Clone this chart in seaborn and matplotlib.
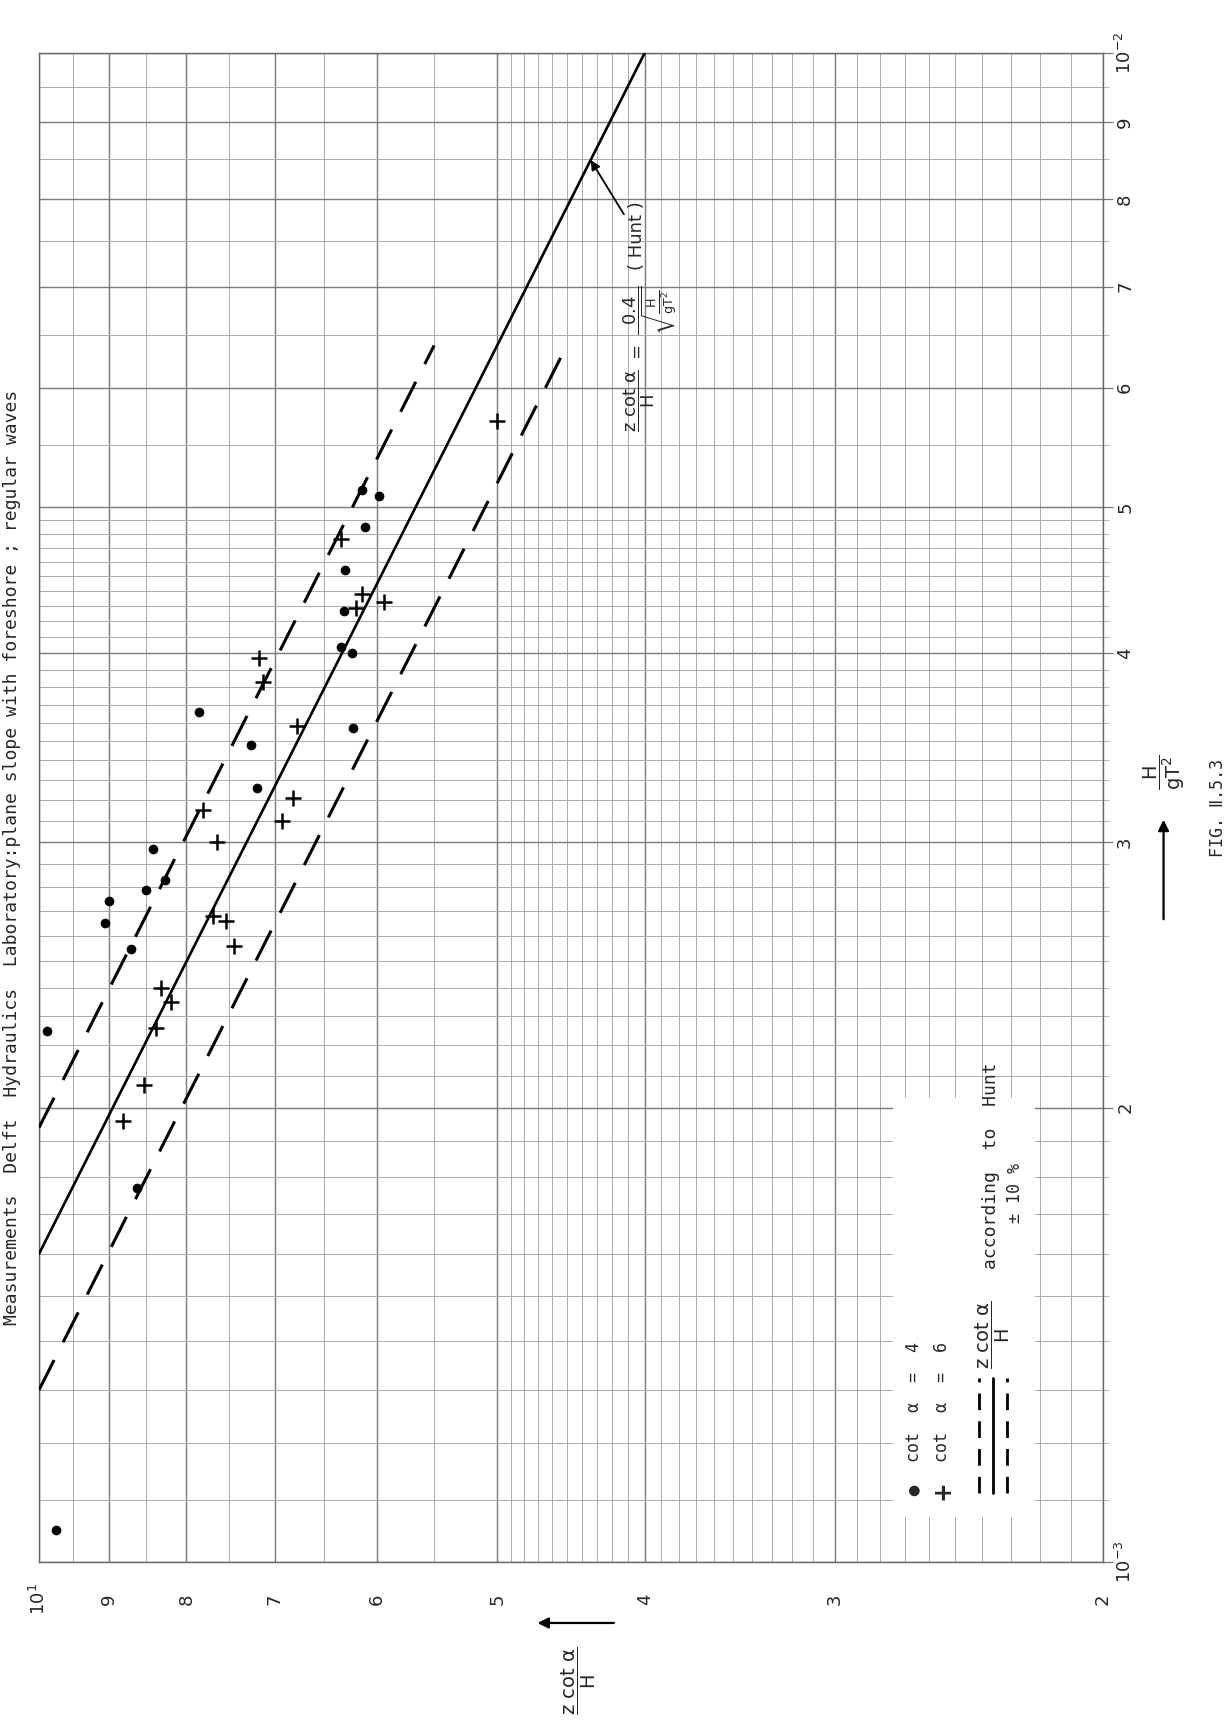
"""
Wave run-up on a plane slope with foreshore (Delft Hydraulics, regular waves).
Log-log chart drawn rotated like the scanned page: z cot(a)/H runs left-right,
H/gT^2 runs bottom-top.
"""

import numpy as np
import pandas as pd
import matplotlib
matplotlib.use("Agg")
import matplotlib.pyplot as plt
from matplotlib.ticker import FixedLocator, NullFormatter
from matplotlib.patches import Rectangle
import seaborn as sns

# measured points, cot a = 4 (dots)
h_cot4 = [5.13e-3, 5.09e-3, 4.85e-3, 4.54e-3, 4.27e-3, 4.04e-3, 4.00e-3, 3.66e-3,
          3.57e-3, 3.48e-3, 3.26e-3, 2.97e-3, 2.83e-3, 2.79e-3, 2.74e-3, 2.65e-3,
          2.55e-3, 2.25e-3, 1.77e-3, 1.05e-3]
z_cot4 = [6.13, 5.98, 6.11, 6.29, 6.30, 6.33, 6.23, 7.85,
          6.22, 7.26, 7.19, 8.42, 8.26, 8.50, 9.00, 9.05,
          8.70, 9.88, 8.62, 9.75]

# measured points, cot a = 6 (plus)
h_cot6 = [5.70e-3, 4.76e-3, 4.38e-3, 4.33e-3, 4.29e-3, 3.97e-3, 3.83e-3, 3.58e-3,
          3.21e-3, 3.15e-3, 3.10e-3, 3.00e-3, 2.68e-3, 2.66e-3, 2.56e-3, 2.40e-3,
          2.35e-3, 2.26e-3, 2.07e-3, 1.96e-3]
z_cot6 = [5.00, 6.33, 6.13, 5.93, 6.19, 7.17, 7.13, 6.77,
          6.81, 7.80, 6.92, 7.64, 7.69, 7.53, 7.44, 8.31,
          8.19, 8.38, 8.53, 8.80]

# Hunt line and the +-10% band (end points)
hunt_h = [1.60e-3, 1.0e-2]
hunt_z = [10.0, 4.0]
upper_h = [1.94e-3, 6.4e-3]
upper_z = [10.0, 5.5]
lower_h = [1.30e-3, 6.4e-3]
lower_z = [10.0, 4.5]

# point on the Hunt line the "(Hunt)" arrow points to
hunt_arrow_h = 8.49e-3
hunt_arrow_z = 4.34

x_ticks = [2, 3, 4, 5, 6, 7, 8, 9, 10]
x_labels = ["2", "3", "4", "5", "6", "7", "8", "9", r"$10^1$"]
y_ticks = [1e-3, 2e-3, 3e-3, 4e-3, 5e-3, 6e-3, 7e-3, 8e-3, 9e-3, 1e-2]
y_labels = [r"$10^{-3}$", "2", "3", "4", "5", "6", "7", "8", "9", r"$10^{-2}$"]

title = ("Measurements  Delft  Hydraulics  Laboratory:plane slope with "
         "foreshore ; regular waves")

sns.set_style("white")
plt.rcParams["font.family"] = ["DejaVu Sans"]
plt.rcParams["mathtext.default"] = "regular"
lettering = ["DejaVu Sans Mono", "DejaVu Sans"]

fig = plt.figure(figsize=(12.29, 17.30), dpi=100)
ax = fig.add_axes([0.0317, 0.0971, 0.8657, 0.8723])
ax.set_xscale("log")
ax.set_yscale("log")
ax.set_xlim(10, 2)
ax.set_ylim(1e-3, 1e-2)

# log paper: 0.1 steps up to 5, 0.5 steps above
paper = np.concatenate([np.arange(10, 50) / 10.0, np.arange(50, 100, 5) / 10.0])
x_minor = [m for m in paper if 2 <= m <= 10]
y_minor = [m * 1e-3 for m in paper]

ax.set_xticks(x_ticks, x_labels, rotation=90, va="center", fontsize=13)
ax.set_yticks(y_ticks, y_labels, rotation=90, ha="center", va="center", fontsize=13)
ax.xaxis.set_minor_locator(FixedLocator(x_minor))
ax.yaxis.set_minor_locator(FixedLocator(y_minor))
ax.xaxis.set_minor_formatter(NullFormatter())
ax.yaxis.set_minor_formatter(NullFormatter())
ax.yaxis.tick_right()

ax.tick_params(axis="x", which="major", length=7, width=0.9, color="#777777", pad=20)
ax.tick_params(axis="y", which="major", length=7, width=0.9, color="#777777", pad=9)
ax.tick_params(which="minor", length=4, width=0.6, color="#aaaaaa")
ax.set_axisbelow(True)
ax.grid(which="major", color="#7a7a7a", lw=1.0)
ax.grid(which="minor", color="#ababab", lw=0.7)
for s in ax.spines.values():
    s.set_color("#666666")
    s.set_linewidth(1.0)

# lines
sns.lineplot(x=hunt_z, y=hunt_h, color="black", lw=1.9, sort=False,
             estimator=None, ax=ax, zorder=3)
for zz, hh in [(upper_z, upper_h), (lower_z, lower_h)]:
    sns.lineplot(x=zz, y=hh, color="black", lw=2.2, linestyle=(0, (11, 6.5)),
                 sort=False, estimator=None, ax=ax, zorder=3)

# measurements
pts4 = pd.DataFrame({"zcot": z_cot4, "h": h_cot4})
pts6 = pd.DataFrame({"zcot": z_cot6, "h": h_cot6})
sns.scatterplot(data=pts4, x="zcot", y="h", marker="o", s=42, color="black",
                edgecolor="black", linewidth=0.5, ax=ax, zorder=4, legend=False)
sns.scatterplot(data=pts6, x="zcot", y="h", marker="+", s=130, color="black",
                linewidth=1.8, ax=ax, zorder=4, legend=False)
ax.set_xlabel("")
ax.set_ylabel("")

# legend block (paper blanked out behind it)
ax.add_patch(Rectangle((0.803, 0.0298), 0.133, 0.278, transform=ax.transAxes,
                       facecolor="white", edgecolor="none", zorder=1))
ax.text(0.822, 0.044, "\u25CF", transform=ax.transAxes, rotation=90,
        ha="center", va="bottom", fontsize=10, zorder=5)
ax.text(0.822, 0.066, "cot  \u03B1  =  4", transform=ax.transAxes, rotation=90,
        ha="center", va="bottom", fontsize=12, family=lettering, zorder=5)
ax.text(0.849, 0.041, "+", transform=ax.transAxes, rotation=90,
        ha="center", va="bottom", fontsize=17, fontweight="bold", zorder=5)
ax.text(0.849, 0.066, "cot  \u03B1  =  6", transform=ax.transAxes, rotation=90,
        ha="center", va="bottom", fontsize=12, family=lettering, zorder=5)
ax.plot([0.884, 0.884], [0.046, 0.122], transform=ax.transAxes, color="black",
        lw=2.0, linestyle=(0, (6, 4)), zorder=5)
ax.plot([0.897, 0.897], [0.046, 0.122], transform=ax.transAxes, color="black",
        lw=2.0, zorder=5)
ax.plot([0.910, 0.910], [0.046, 0.122], transform=ax.transAxes, color="black",
        lw=2.0, linestyle=(0, (6, 4)), zorder=5)
ax.text(0.897, 0.128, r"$\dfrac{z\ cot\ \alpha}{H}$", transform=ax.transAxes,
        rotation=90, ha="center", va="bottom", fontsize=14, zorder=5)
ax.text(0.895, 0.194, "according  to  Hunt", transform=ax.transAxes,
        rotation=90, ha="center", va="bottom", fontsize=13, family=lettering, zorder=5)
ax.text(0.917, 0.2445, "\u00B1 10 %", transform=ax.transAxes, rotation=90,
        ha="center", va="center", fontsize=12, family=lettering, zorder=5)

# Hunt formula and label
ax.text(0.574, 0.846, r"$\dfrac{z\ cot\ \alpha}{H}\ =\ \dfrac{0.4}{\sqrt{\frac{H}{gT^2}}}$",
        transform=ax.transAxes, rotation=90, ha="center", va="top", fontsize=13,
        zorder=5)
ax.annotate("( Hunt )", xy=(hunt_arrow_z, hunt_arrow_h), xycoords="data",
            xytext=(0.562, 0.879), textcoords="axes fraction", rotation=90,
            ha="center", va="center", fontsize=13, zorder=5,
            arrowprops=dict(arrowstyle="-|>", color="black", lw=1.3,
                            shrinkA=1, shrinkB=0, mutation_scale=14))

# title and axis captions
ax.text(-0.0254, 0.157, title, transform=ax.transAxes, rotation=90,
        ha="center", va="bottom", fontsize=13, family=lettering)
ax.text(1.058, 0.5235, r"$\dfrac{H}{gT^2}$", transform=ax.transAxes, rotation=90,
        ha="center", va="center", fontsize=14)
ax.annotate("", xy=(1.057, 0.4937), xytext=(1.057, 0.4241), xycoords="axes fraction",
            arrowprops=dict(arrowstyle="-|>", color="black", lw=1.6, mutation_scale=16))
ax.text(1.108, 0.4997, "FIG. \u2161.5.3", transform=ax.transAxes, rotation=90,
        ha="center", va="center", fontsize=12, family=lettering)
ax.text(0.5075, -0.079, r"$\dfrac{z\ cot\ \alpha}{H}$", transform=ax.transAxes,
        rotation=90, ha="center", va="center", fontsize=14)
ax.annotate("", xy=(0.466, -0.0404), xytext=(0.543, -0.0404), xycoords="axes fraction",
            arrowprops=dict(arrowstyle="-|>", color="black", lw=1.6, mutation_scale=16))

fig.savefig("out.png", dpi=100)
